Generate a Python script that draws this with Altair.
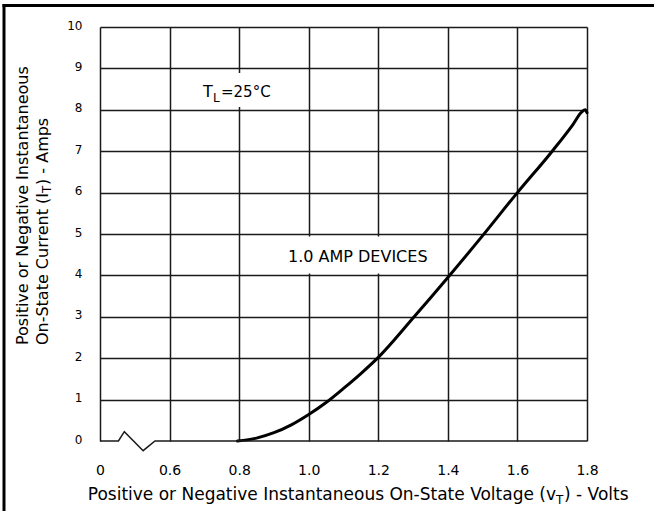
import altair as alt
import pandas as pd

FONT = "DejaVu Sans"

# Curve: on-state voltage (V) vs on-state current (A)
volts = [0.795, 0.85, 0.9, 0.95, 1.0, 1.05, 1.1, 1.15, 1.2, 1.3, 1.4, 1.5, 1.6, 1.7, 1.76, 1.785, 1.795, 1.8]
amps = [0.0, 0.07, 0.2, 0.39, 0.64, 0.93, 1.27, 1.63, 2.02, 2.97, 3.95, 4.96, 6.0, 7.0, 7.65, 7.95, 8.0, 7.93]

# Axis ticks
x_ticks = [0.4, 0.6, 0.8, 1.0, 1.2, 1.4, 1.6, 1.8]
y_ticks = [0, 1, 2, 3, 4, 5, 6, 7, 8, 9, 10]

# Bottom axis line with scale-break zigzag
break_x = [0.4, 0.453, 0.470, 0.524, 0.558, 1.8]
break_y = [0.0, 0.0, 0.225, -0.234, 0.0, 0.0]

curve_df = pd.DataFrame({"v": volts, "i": amps, "o": list(range(len(volts)))})
break_df = pd.DataFrame({"v": break_x, "i": break_y, "o": list(range(len(break_x)))})
one = pd.DataFrame({"a": [0]})

xscale = alt.Scale(domain=[0.4, 1.8], nice=False, zero=False)
yscale = alt.Scale(domain=[0, 10], nice=False, zero=False)

xaxis = alt.Axis(
    values=x_ticks, title=None, domain=False, ticks=False, labelPadding=22,
    labelFontSize=14, labelFont=FONT, labelColor="black", labelBaseline="top",
    labelExpr="datum.value < 0.5 ? '0' : format(datum.value, '.1f')",
    grid=True, gridColor="#1a1a1a", gridWidth=1.5, labelFlush=False)
yaxis = alt.Axis(
    values=y_ticks, title=None, domain=False, ticks=False, labelPadding=18,
    labelFontSize=12, labelFont=FONT, labelColor="black", labelOffset=-2,
    grid=True, gridColor="#1a1a1a", gridWidth=1.5, labelFlush=False,
    gridOpacity={"condition": {"test": "datum.value == 0", "value": 0}, "value": 1})

W, H = 487, 414

curve = alt.Chart(curve_df).mark_line(
    color="black", strokeWidth=3, strokeCap="round", interpolate="monotone").encode(
    x=alt.X("v:Q", scale=xscale, axis=xaxis),
    y=alt.Y("i:Q", scale=yscale, axis=yaxis),
    order="o:O",
)

bottom = alt.Chart(break_df).mark_line(color="#1a1a1a", strokeWidth=1.5).encode(
    x=alt.X("v:Q", scale=xscale, axis=xaxis),
    y=alt.Y("i:Q", scale=yscale, axis=yaxis),
    order="o:O",
)


def box(x1, x2, y1, y2):
    return alt.Chart(one).mark_rect(color="white").encode(
        x=alt.value(x1), x2=alt.value(x2), y=alt.value(y1), y2=alt.value(y2))


def txt(s, x, y, size, **kw):
    return alt.Chart(one).mark_text(font=FONT, fontSize=size, color="black", **kw).encode(
        x=alt.value(x), y=alt.value(y), text=alt.value(s))


frame_left = alt.Chart(one).mark_rule(color="black", strokeWidth=3).encode(
    x=alt.value(-96), y=alt.value(-23), y2=alt.value(520))
frame_top = alt.Chart(one).mark_rule(color="black", strokeWidth=3).encode(
    x=alt.value(-97.5), x2=alt.value(600), y=alt.value(-21.5))

layers = [
    curve, bottom,
    frame_left, frame_top,
    box(98, 178, 46, 80),
    box(184, 332, 209.5, 246.5),
    # T_L=25°C
    txt("T", 103, 70, 16, align="left", baseline="alphabetic"),
    txt("L", 113, 75, 12, align="left", baseline="alphabetic"),
    txt("=25°C", 121, 70, 15, align="left", baseline="alphabetic"),
    txt("1.0 AMP DEVICES", 188, 235, 16, align="left", baseline="alphabetic"),
    # x title
    txt("Positive or Negative Instantaneous On-State Voltage (v", 456, 473, 17, align="right", baseline="alphabetic"),
    txt("T", 456, 477, 12, align="left", baseline="alphabetic"),
    txt(") - Volts", 464, 473, 17, align="left", baseline="alphabetic"),
    # y title
    txt("Positive or Negative Instantaneous", -77, 318, 16, angle=270, align="left", baseline="middle"),
    txt("On-State Current (I", -57, 166, 16, angle=270, align="right", baseline="middle"),
    txt("T", -53, 166, 12, angle=270, align="left", baseline="middle"),
    txt(") - Amps", -57, 158, 16, angle=270, align="left", baseline="middle"),
]

chart = alt.layer(*layers).properties(
    width=W, height=H,
    autosize=alt.AutoSizeParams(type="none"),
    padding={"left": 100, "top": 27, "right": 67, "bottom": 70},
    background="white",
).configure_view(stroke="transparent")

chart.save("out.html", embed_options={"renderer": "svg", "actions": False})
